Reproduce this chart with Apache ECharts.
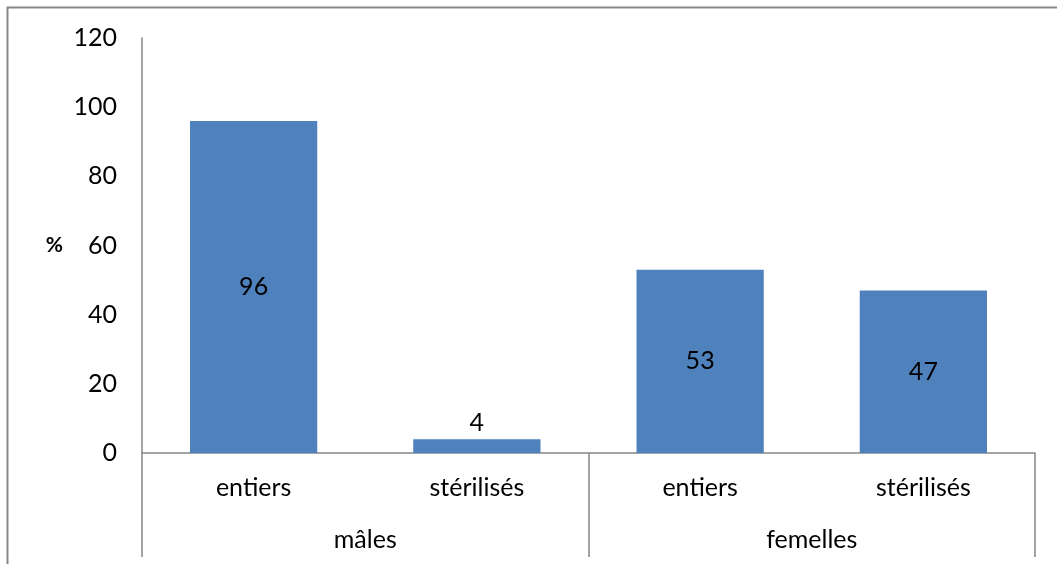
<!DOCTYPE html>
<html>
<head>
<meta charset="utf-8">
<script src="https://cdn.jsdelivr.net/npm/echarts@6/dist/echarts.min.js"></script>
<style>
  html, body { margin: 0; padding: 0; background: #fff; }
  #chart { width: 1057px; height: 564px; }
</style>
</head>
<body>
<div id="chart"></div>
<script>
// Statut de stérilisation par sexe (%)
const subCategories = ['entiers', 'stérilisés', 'entiers', 'stérilisés'];
const groups = ['mâles', 'femelles'];
const values = [96, 4, 53, 47];
const yTicks = [0, 20, 40, 60, 80, 100, 120];

const FONT = 'Lato';
const FS = 25;
const AXIS_GRAY = '#878787';
const BAR_BLUE = '#4F81BD';

const chart = echarts.init(document.getElementById('chart'));

const barData = values.map(v => ({
  value: v,
  label: { position: v < 10 ? 'top' : 'inside', distance: 4 }
}));

chart.setOption({
  animation: false,
  textStyle: { fontFamily: FONT },
  grid: { left: 142, right: 22, top: 38, bottom: 111, containLabel: false },
  graphic: [{
    type: 'polyline',
    shape: { points: [[7.5, 570], [7.5, 7.5], [1070, 7.5]] },
    style: { stroke: AXIS_GRAY, lineWidth: 2, fill: null },
    silent: true
  }],
  xAxis: [
    {
      type: 'category',
      data: subCategories,
      position: 'bottom',
      axisLine: { show: true, lineStyle: { color: AXIS_GRAY, width: 1.5 } },
      axisTick: { show: false },
      axisLabel: { color: '#000', fontSize: FS, fontFamily: FONT, margin: 22, interval: 0 }
    },
    {
      type: 'category',
      data: groups,
      position: 'bottom',
      axisLine: { show: false },
      axisTick: { show: true, length: 104, inside: false, lineStyle: { color: AXIS_GRAY, width: 1.5 } },
      axisLabel: { color: '#000', fontSize: FS, fontFamily: FONT, margin: 74, interval: 0 }
    }
  ],
  yAxis: {
    type: 'value',
    min: yTicks[0],
    max: yTicks[yTicks.length - 1],
    interval: yTicks[1] - yTicks[0],
    name: '%',
    nameLocation: 'middle',
    nameRotate: 0,
    nameGap: 79,
    nameTextStyle: { color: '#000', fontSize: 21, fontWeight: 'bold', fontFamily: FONT },
    axisLine: { show: true, lineStyle: { color: AXIS_GRAY, width: 1.5 } },
    axisTick: { show: false },
    splitLine: { show: false },
    axisLabel: { color: '#000', fontSize: FS, fontFamily: FONT, margin: 25 }
  },
  series: [{
    type: 'bar',
    xAxisIndex: 0,
    data: barData,
    barWidth: '57%',
    itemStyle: { color: BAR_BLUE },
    label: { show: true, color: '#000', fontSize: FS, fontFamily: FONT }
  }]
});
</script>
</body>
</html>
